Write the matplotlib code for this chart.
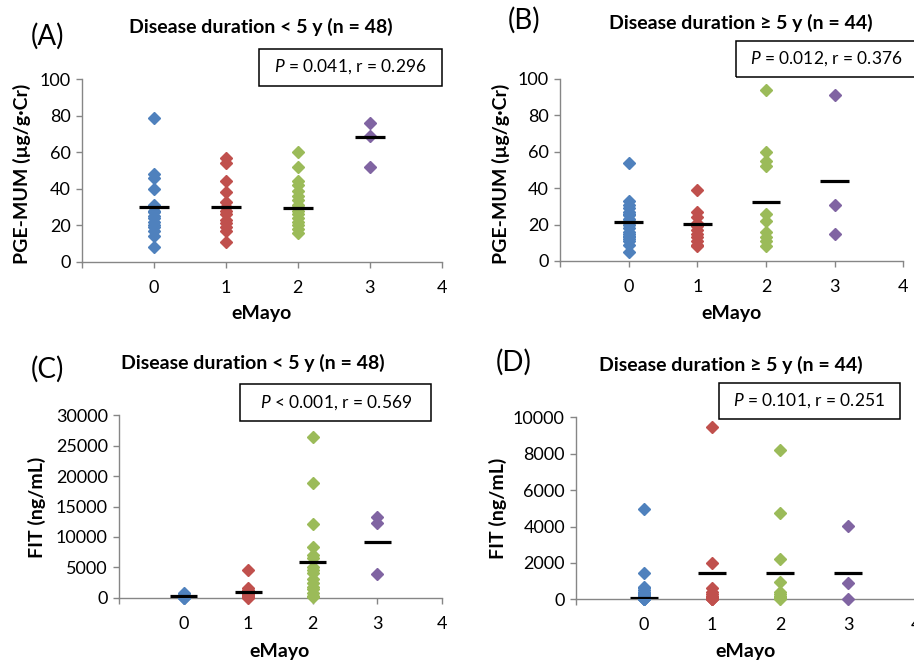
import numpy as np
import matplotlib
matplotlib.use("Agg")
import matplotlib.pyplot as plt
from matplotlib.patches import Rectangle

plt.rcParams['font.family'] = ['Lato', 'DejaVu Sans']
plt.rcParams['mathtext.fontset'] = 'custom'
plt.rcParams['mathtext.rm'] = 'Lato'
plt.rcParams['mathtext.it'] = 'Lato:italic'

W, H = 914, 663
COLORS = ['#4F81BD', '#C0504D', '#9BBB59', '#8064A2']
AXIS_GRAY = '#868686'

# eMayo groups on the x axis
emayo = [0, 1, 2, 3]
xticks = [-1, 0, 1, 2, 3, 4]
xtick_labels = ['', '0', '1', '2', '3', '4']

# (A) PGE-MUM, disease duration < 5 y
a_e0 = [79, 48, 46, 40, 31, 30, 28, 27, 25, 24, 22, 20, 19, 17, 14, 8]
a_e1 = [57, 54, 44, 38, 33, 30, 28, 26, 23, 21, 19, 17, 11]
a_e2 = [60, 52, 44, 42, 39, 36, 34, 31, 30, 28, 26, 24, 22, 20, 18, 16]
a_e3 = [76, 69, 52]
a_median = [30, 30, 29.6, 68.6]

# (B) PGE-MUM, disease duration >= 5 y
b_e0 = [54, 33, 31, 29, 27, 26, 25, 23, 22, 21, 20, 18, 16, 15, 14, 13, 12, 11, 9, 5]
b_e1 = [39, 27, 24, 21, 19, 17, 15, 13, 11, 9, 8]
b_e2 = [94, 60, 55, 52, 26, 22, 16, 13, 11, 8]
b_e3 = [91, 31, 15]
b_median = [21.6, 20.5, 32.6, 43.8]

# (C) FIT, disease duration < 5 y
c_e0 = [700, 500, 400, 350, 300, 250, 200, 180, 150, 120, 100, 80, 60, 50, 30, 20]
c_e1 = [4600, 1600, 1300, 1000, 800, 600, 500, 400, 300, 200, 100, 50, 0]
c_e2 = [26500, 18800, 12200, 8300, 7000, 6500, 5100, 4500, 4000, 3000, 2400,
        1800, 1500, 800, 300, 100]
c_e3 = [13300, 12300, 3900]
c_median = [330, 990, 5920, 9100]

# (D) FIT, disease duration >= 5 y
d_e0 = [4950, 1450, 700, 600, 500, 400, 350, 300, 250, 200, 150, 120, 100, 80,
        60, 50, 40, 20, 10, 0]
d_e1 = [9450, 2000, 600, 400, 300, 200, 100, 50, 20, 10, 0]
d_e2 = [8200, 4720, 2210, 930, 400, 300, 200, 100, 50, 0]
d_e3 = [4040, 880, 0]
d_median = [55, 1430, 1430, 1430]


def px(x, y):
    """pixel coords (top-left origin) -> figure fraction"""
    return x / W, 1 - y / H


def axes_rect(left, top, right, bottom):
    return [left / W, 1 - bottom / H, (right - left) / W, (bottom - top) / H]


def draw_panel(ax, groups, medians, ymax, ystep):
    for x, vals, c in zip(emayo, groups, COLORS):
        ax.plot([x] * len(vals), vals, linestyle='none', marker='D', ms=6.5,
                color=c, mec=c, clip_on=False, zorder=3)
    for x, m in zip(emayo, medians):
        ax.plot([x - 0.21, x + 0.21], [m, m], color='black', lw=2.3,
                solid_capstyle='butt', zorder=4)
    ax.set_xlim(-1, 4)
    ax.set_ylim(0, ymax)
    ax.set_xticks(xticks)
    ax.set_xticklabels(xtick_labels)
    ax.set_yticks(np.arange(0, ymax + 1, ystep))
    for s in ['top', 'right']:
        ax.spines[s].set_visible(False)
    for s in ['left', 'bottom']:
        ax.spines[s].set_color(AXIS_GRAY)
        ax.spines[s].set_linewidth(1.0)
    ax.tick_params(direction='out', length=4, width=1.0, color=AXIS_GRAY,
                   labelsize=13, pad=4)
    ax.tick_params(axis='x', pad=9)


fig = plt.figure(figsize=(W / 100, H / 100), dpi=100)

panels = [
    dict(rect=axes_rect(82, 79.3, 441.7, 261.7), groups=[a_e0, a_e1, a_e2, a_e3],
         med=a_median, ymax=100, ystep=20, ylabel='PGE-MUM (µg/g·Cr)',
         title='Disease duration < 5 y (n = 48)', title_xy=(261, 27),
         letter='(A)', letter_xy=(47, 36), ylabel_xy=(22, 174), xlabel_xy=(262, 314),
         box=(259, 49.3, 441.7, 85.7), box_text='$P$ = 0.041, r = 0.296', text_xy=(350, 67)),
    dict(rect=axes_rect(560, 79, 903.3, 261), groups=[b_e0, b_e1, b_e2, b_e3],
         med=b_median, ymax=100, ystep=20, ylabel='PGE-MUM (µg/g·Cr)',
         title='Disease duration ≥ 5 y (n = 44)', title_xy=(741, 23),
         letter='(B)', letter_xy=(524, 20), ylabel_xy=(501, 174), xlabel_xy=(732, 314),
         box=(735.7, 41, 925, 76.7), box_text='$P$ = 0.012, r = 0.376', text_xy=(826, 59)),
    dict(rect=axes_rect(119, 415.3, 441.7, 597.7), groups=[c_e0, c_e1, c_e2, c_e3],
         med=c_median, ymax=30000, ystep=5000, ylabel='FIT (ng/mL)',
         title='Disease duration < 5 y (n = 48)', title_xy=(253, 363),
         letter='(C)', letter_xy=(47, 369), ylabel_xy=(37, 507), xlabel_xy=(280, 651),
         box=(240, 384.3, 430.7, 420.7), box_text='$P$ < 0.001, r = 0.569', text_xy=(336, 402.5)),
    dict(rect=axes_rect(576, 417.3, 916, 599.3), groups=[d_e0, d_e1, d_e2, d_e3],
         med=d_median, ymax=10000, ystep=2000, ylabel='FIT (ng/mL)',
         title='Disease duration ≥ 5 y (n = 44)', title_xy=(731, 365),
         letter='(D)', letter_xy=(514, 362), ylabel_xy=(498, 508), xlabel_xy=(746, 652),
         box=(718.7, 382.7, 900, 419.3), box_text='$P$ = 0.101, r = 0.251', text_xy=(809, 401)),
]

for p in panels:
    ax = fig.add_axes(p['rect'])
    draw_panel(ax, p['groups'], p['med'], p['ymax'], p['ystep'])

    fig.text(*px(*p['title_xy']), p['title'], ha='center', va='center',
             fontsize=14, fontweight='bold')
    fig.text(*px(*p['letter_xy']), p['letter'], ha='center', va='center', fontsize=20)
    fig.text(*px(*p['ylabel_xy']), p['ylabel'], ha='center', va='center',
             rotation=90, fontsize=14, fontweight='bold')
    fig.text(*px(*p['xlabel_xy']), 'eMayo', ha='center', va='center',
             fontsize=14, fontweight='bold')

    # statistics box
    left, top, right, bottom = p['box']
    l, b = px(left, bottom)
    fig.patches.append(Rectangle((l, b), (right - left) / W, (bottom - top) / H,
                                 transform=fig.transFigure, fill=False,
                                 edgecolor='black', lw=1.1))
    fig.text(*px(*p['text_xy']), p['box_text'], ha='center', va='center', fontsize=12.5)

fig.savefig('out.png', dpi=100)
